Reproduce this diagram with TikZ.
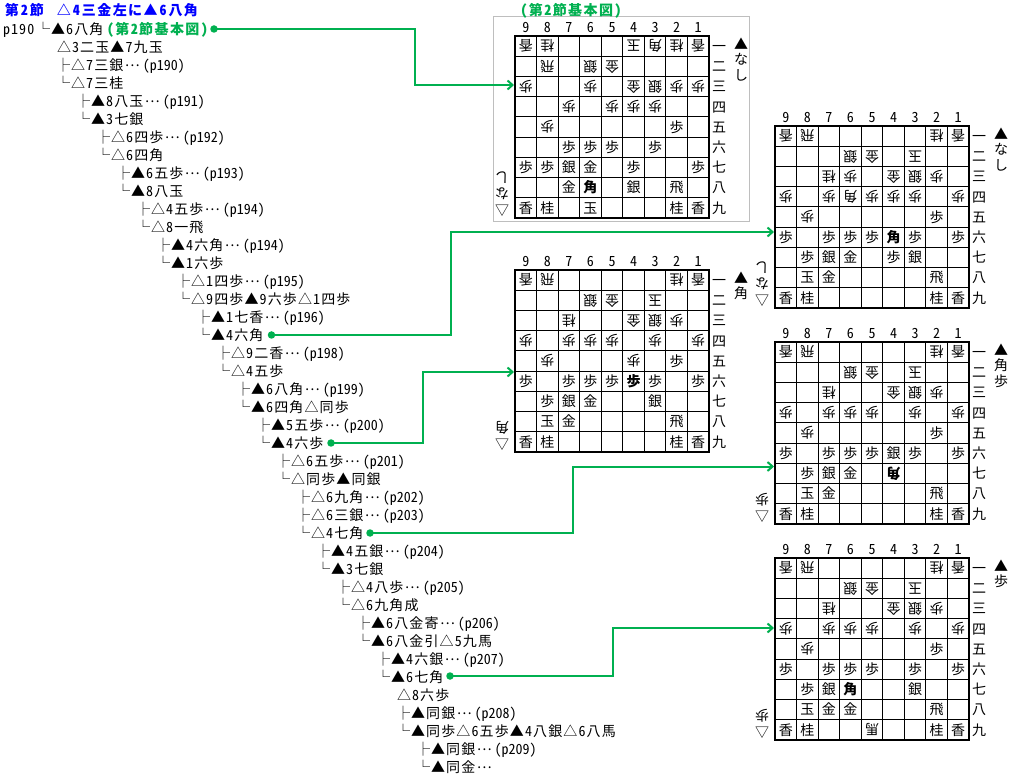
\documentclass[tikz,border=0pt]{standalone}
\usepackage{fontspec}
\usetikzlibrary{arrows.meta}
\setmainfont{Noto Sans CJK JP}[RawFeature={+hwid}]
\newfontfamily\treefont{Noto Sans CJK JP}[RawFeature={+hwid},LetterSpace=8]
\newfontfamily\headfont{Noto Sans CJK JP}[RawFeature={+hwid},LetterSpace=10]
\newfontfamily\dotfont{Noto Sans CJK JP}
\newfontfamily\numfont{Noto Sans CJK JP}[RawFeature={+hwid}]
\newcommand{\mydots}{\kern1.5pt\raisebox{4pt}{\dotfont …}}
\newcommand{\rf}[1]{\mydots\kern3pt{\numfont （p#1）}}
\newcommand{\hd}[1]{\kern2pt #1\kern2pt}
\definecolor{grn}{RGB}{0,176,80}
\definecolor{frm}{RGB}{190,190,190}
\tikzset{
  txt/.style={inner sep=0pt,outer sep=0pt,text height=10.6pt,text depth=0pt,font=\treefont\fontsize{14pt}{14pt}\selectfont},
  line/.style={txt,anchor=west},
  head/.style={line,font=\headfont\bfseries\fontsize{14pt}{14pt}\selectfont},
  sp/.style={txt,anchor=center},
  gp/.style={sp,rotate=180},
  bsp/.style={sp,font=\treefont\bfseries\fontsize{14pt}{14pt}\selectfont},
  bgp/.style={bsp,rotate=180},
  frame/.style={draw=black,line width=2pt,inner sep=0pt,outer sep=0pt,minimum width=194pt,minimum height=182pt,anchor=north west},
  grid/.style={draw=black,line width=1pt},
  dot/.style={circle,fill=grn,inner sep=0pt,outer sep=0pt,minimum size=7.5pt},
  conn/.style={draw=grn,line width=2pt,-{Straight Barb[length=5pt,width=9pt]}}
}
\newcommand{\boardbase}[1]{%
  \foreach \ii in {1,...,8}{
    \draw[grid] ({\ii*21.556},0) -- ({\ii*21.556},182);
    \draw[grid] (0,{\ii*20.222}) -- (194,{\ii*20.222});
  }
  \node[frame,name=#1] at (0,0) {};
  \foreach \ii in {1,...,9}{
    \node[sp,name=#1-f\ii] at ({(9-\ii+.5)*21.556},-9) {\ii};
  }
  \foreach \ii/\kk in {1/一,2/二,3/三,4/四,5/五,6/六,7/七,8/八,9/九}{
    \node[sp,name=#1-r\ii] at (204,{(\ii-.5)*20.222}) {\kk};
  }
}
\newcommand{\pcs}[3]{%
  \foreach \pcol/\prow/\ptxt in {#3}{
    \node[#2,name=#1-\pcol\prow] at ({(9-\pcol+.5)*21.556},{(\prow-.5)*20.222}) {\ptxt};
  }
}
\newcommand{\stdtop}[1]{\pcs{#1}{gp}{9/1/香,8/1/飛,2/1/桂,1/1/香,6/2/銀,5/2/金,3/2/玉}}
\begin{document}
\begin{tikzpicture}[x=1pt,y=-1pt]
\useasboundingbox (0,0) rectangle (1015,775);
\fill[white] (0,0) rectangle (1015,775);

% tree text
\node[head,text=blue,name=h0] at (5,10) {第\hd{2}節\kern13pt △\hd{4}三金左に▲\hd{6}八角};
\node[line,name=p0] at (3,29) {p190};
\node[line,name=t1] at (36,29) {└▲6八角};
\node[head,text=grn,name=t1b] at (107,29) {（第2節基本図）};
\node[line,name=t2] at (57,47) {△3二玉▲7九玉};
\node[line,name=t3] at (56,65) {├△7三銀\rf{190}};
\node[line,name=t4] at (56,83) {└△7三桂};
\node[line,name=t5] at (76,101) {├▲8八玉\rf{191}};
\node[line,name=t6] at (76,119) {└▲3七銀};
\node[line,name=t7] at (96,137) {├△6四歩\rf{192}};
\node[line,name=t8] at (96,155) {└△6四角};
\node[line,name=t9] at (116,173) {├▲6五歩\rf{193}};
\node[line,name=t10] at (116,191) {└▲8八玉};
\node[line,name=t11] at (136,209) {├△4五歩\rf{194}};
\node[line,name=t12] at (136,227) {└△8一飛};
\node[line,name=t13] at (156,245) {├▲4六角\rf{194}};
\node[line,name=t14] at (156,263) {└▲1六歩};
\node[line,name=t15] at (176,281) {├△1四歩\rf{195}};
\node[line,name=t16] at (176,299) {└△9四歩▲9六歩△1四歩};
\node[line,name=t17] at (196,317) {├▲1七香\rf{196}};
\node[line,name=t18] at (196,335) {└▲4六角};
\node[line,name=t19] at (216,353) {├△9二香\rf{198}};
\node[line,name=t20] at (216,371) {└△4五歩};
\node[line,name=t21] at (236,389) {├▲6八角\rf{199}};
\node[line,name=t22] at (236,407) {└▲6四角△同歩};
\node[line,name=t23] at (256,425) {├▲5五歩\rf{200}};
\node[line,name=t24] at (256,443) {└▲4六歩};
\node[line,name=t25] at (276,461) {├△6五歩\rf{201}};
\node[line,name=t26] at (276,479) {└△同歩▲同銀};
\node[line,name=t27] at (296,497) {├△6九角\rf{202}};
\node[line,name=t28] at (296,515) {├△6三銀\rf{203}};
\node[line,name=t29] at (296,533) {└△4七角};
\node[line,name=t30] at (316,551) {├▲4五銀\rf{204}};
\node[line,name=t31] at (316,569) {└▲3七銀};
\node[line,name=t32] at (336,587) {├△4八歩\rf{205}};
\node[line,name=t33] at (336,605) {└△6九角成};
\node[line,name=t34] at (356,623) {├▲6八金寄\rf{206}};
\node[line,name=t35] at (356,641) {└▲6八金引△5九馬};
\node[line,name=t36] at (376,659) {├▲4六銀\rf{207}};
\node[line,name=t37] at (376,677) {└▲6七角};
\node[line,name=t38] at (397,695) {△8六歩};
\node[line,name=t39] at (396,713) {├▲同銀\rf{208}};
\node[line,name=t40] at (396,731) {└▲同歩△6五歩▲4八銀△6八馬};
\node[line,name=t41] at (416,749) {├▲同銀\rf{209}};
\node[line,name=t42] at (416,767) {└▲同金\mydots};

% base-position frame
\node[draw=frm,line width=1pt,inner sep=0pt,outer sep=0pt,minimum width=256pt,minimum height=205pt,anchor=north west,name=fA] at (493,17) {};
\node[head,text=grn,anchor=center,name=capA] at (571,10) {（第2節基本図）};

% board A
\begin{scope}[shift={(515,36)}]
\boardbase{bA}
\pcs{bA}{gp}{9/1/香,8/1/桂,4/1/玉,3/1/角,2/1/桂,1/1/香,8/2/飛,6/2/銀,5/2/金,9/3/歩,6/3/歩,4/3/金,3/3/銀,2/3/歩,1/3/歩,7/4/歩,5/4/歩,4/4/歩,3/4/歩,8/5/歩}
\pcs{bA}{sp}{2/5/歩,7/6/歩,6/6/歩,5/6/歩,3/6/歩,9/7/歩,8/7/歩,7/7/銀,6/7/金,4/7/歩,1/7/歩,7/8/金,4/8/銀,2/8/飛,9/9/香,8/9/桂,6/9/玉,2/9/桂,1/9/香}
\pcs{bA}{bsp}{6/8/角}
\node[sp,name=bA-h1] at (226,8) {▲};
\node[sp,name=bA-h2] at (226,23) {な};
\node[sp,name=bA-h3] at (226,39) {し};
\node[sp,name=bA-g1] at (-13,174) {▽};
\node[gp,name=bA-g2] at (-13,158) {な};
\node[gp,name=bA-g3] at (-13,142) {し};
\end{scope}

% board B
\begin{scope}[shift={(775,126)}]
\boardbase{bB}
\stdtop{bB}
\pcs{bB}{gp}{7/3/桂,6/3/歩,4/3/金,3/3/銀,2/3/歩,9/4/歩,7/4/歩,6/4/角,5/4/歩,4/4/歩,3/4/歩,1/4/歩,8/5/歩}
\pcs{bB}{sp}{2/5/歩,9/6/歩,7/6/歩,6/6/歩,5/6/歩,3/6/歩,1/6/歩,8/7/歩,7/7/銀,6/7/金,4/7/歩,3/7/銀,8/8/玉,7/8/金,2/8/飛,9/9/香,8/9/桂,2/9/桂,1/9/香}
\pcs{bB}{bsp}{4/6/角}
\node[sp,name=bB-h1] at (226,8) {▲};
\node[sp,name=bB-h2] at (226,23) {な};
\node[sp,name=bB-h3] at (226,39) {し};
\node[sp,name=bB-g1] at (-13,174) {▽};
\node[gp,name=bB-g2] at (-13,158) {な};
\node[gp,name=bB-g3] at (-13,142) {し};
\end{scope}

% board C
\begin{scope}[shift={(515,270)}]
\boardbase{bC}
\stdtop{bC}
\pcs{bC}{gp}{7/3/桂,4/3/金,3/3/銀,2/3/歩,9/4/歩,7/4/歩,6/4/歩,5/4/歩,3/4/歩,1/4/歩,8/5/歩,4/5/歩}
\pcs{bC}{sp}{2/5/歩,9/6/歩,7/6/歩,6/6/歩,5/6/歩,3/6/歩,1/6/歩,8/7/歩,7/7/銀,6/7/金,3/7/銀,8/8/玉,7/8/金,2/8/飛,9/9/香,8/9/桂,2/9/桂,1/9/香}
\pcs{bC}{bsp}{4/6/歩}
\node[sp,name=bC-h1] at (226,8) {▲};
\node[sp,name=bC-h2] at (226,23) {角};
\node[sp,name=bC-g1] at (-13,174) {▽};
\node[gp,name=bC-g2] at (-13,158) {角};
\end{scope}

% board D
\begin{scope}[shift={(775,342)}]
\boardbase{bD}
\stdtop{bD}
\pcs{bD}{gp}{7/3/桂,4/3/金,3/3/銀,2/3/歩,9/4/歩,7/4/歩,6/4/歩,5/4/歩,3/4/歩,1/4/歩,8/5/歩}
\pcs{bD}{sp}{2/5/歩,9/6/歩,7/6/歩,6/6/歩,5/6/歩,4/6/銀,3/6/歩,1/6/歩,8/7/歩,7/7/銀,6/7/金,8/8/玉,7/8/金,2/8/飛,9/9/香,8/9/桂,2/9/桂,1/9/香}
\pcs{bD}{bgp}{4/7/角}
\node[sp,name=bD-h1] at (226,8) {▲};
\node[sp,name=bD-h2] at (226,23) {角};
\node[sp,name=bD-h3] at (226,39) {歩};
\node[sp,name=bD-g1] at (-13,174) {▽};
\node[gp,name=bD-g2] at (-13,158) {歩};
\end{scope}

% board E
\begin{scope}[shift={(775,558)}]
\boardbase{bE}
\stdtop{bE}
\pcs{bE}{gp}{7/3/桂,4/3/金,3/3/銀,2/3/歩,9/4/歩,7/4/歩,6/4/歩,5/4/歩,3/4/歩,1/4/歩,8/5/歩,5/9/馬}
\pcs{bE}{sp}{2/5/歩,9/6/歩,7/6/歩,6/6/歩,5/6/歩,3/6/歩,1/6/歩,8/7/歩,7/7/銀,3/7/銀,8/8/玉,7/8/金,6/8/金,2/8/飛,9/9/香,8/9/桂,2/9/桂,1/9/香}
\pcs{bE}{bsp}{6/7/角}
\node[sp,name=bE-h1] at (226,8) {▲};
\node[sp,name=bE-h2] at (226,23) {歩};
\node[sp,name=bE-g1] at (-13,174) {▽};
\node[gp,name=bE-g2] at (-13,158) {歩};
\end{scope}

% connectors
\node[dot,name=dA] at (214,29) {};
\node[dot,name=dB] at (271.5,335) {};
\node[dot,name=dC] at (331,443) {};
\node[dot,name=dD] at (370,533) {};
\node[dot,name=dE] at (450,676) {};
\coordinate (kA) at (415,85); \coordinate (eA) at (514,85);
\coordinate (kB) at (451,232); \coordinate (eB) at (774,232);
\coordinate (kC) at (423,372); \coordinate (eC) at (514,372);
\coordinate (kD) at (572.5,466.5); \coordinate (eD) at (774,466.5);
\coordinate (kE) at (612.5,628); \coordinate (eE) at (774,628);
\draw[conn] (dA.center) -| (kA) -- (eA);
\draw[conn] (dB.center) -| (kB) -- (eB);
\draw[conn] (dC.center) -| (kC) -- (eC);
\draw[conn] (dD.center) -| (kD) -- (eD);
\draw[conn] (dE.center) -| (kE) -- (eE);
\end{tikzpicture}
\end{document}
